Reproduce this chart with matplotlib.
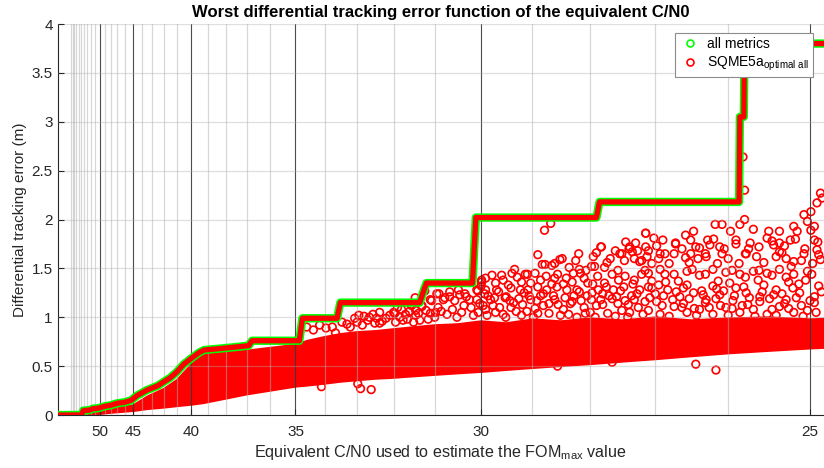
import numpy as np
import matplotlib
matplotlib.use("Agg")
import matplotlib.pyplot as plt
from matplotlib.lines import Line2D

plt.rcParams['font.family'] = ['Liberation Sans', 'DejaVu Sans']

# worst case curve (C/N0 in dB-Hz, error in m)
env_cn0 = [100, 55.0, 54.3, 52.5, 51.5, 50.3, 49.0, 48.0, 47.0, 46.0, 45.2, 44.5, 43.5,
           42.5, 42.0, 41.5, 41.0, 40.5, 40.0, 39.5, 39.2, 38.3, 37.3, 36.9, 36.75,
           34.86, 34.75, 33.6, 33.5, 31.35, 31.25, 31.19, 30.17, 30.1, 27.9, 27.85,
           25.86, 25.85, 25.80, 25.79, 24.5]
env_err = [0.0, 0.0, 0.045, 0.05, 0.065, 0.07, 0.09, 0.10, 0.12, 0.13, 0.15, 0.20, 0.255,
           0.30, 0.34, 0.38, 0.44, 0.52, 0.58, 0.64, 0.665, 0.68, 0.70, 0.71, 0.76,
           0.76, 0.99, 0.99, 1.15, 1.15, 1.28, 1.35, 1.35, 2.02, 2.02, 2.18,
           2.18, 3.05, 3.05, 3.80, 3.80]

# dense part of the SQME5a cloud (lower / upper edge)
core_cn0 = [100, 55, 50, 47.5, 45, 43.5, 42, 41, 40, 39.3, 37, 35, 34.6, 34, 33.5, 33,
            32.5, 32, 31.5, 31, 30.5, 30, 29.5, 29, 28.5, 28, 27.5, 27, 26.5, 26, 25.5,
            25, 24.5]
core_low = [0.0, 0.0, 0.02, 0.035, 0.05, 0.07, 0.085, 0.10, 0.115, 0.13, 0.22, 0.30,
            0.31, 0.33, 0.35, 0.365, 0.38, 0.39, 0.405, 0.42, 0.435, 0.45, 0.47, 0.49,
            0.51, 0.53, 0.555, 0.58, 0.61, 0.64, 0.665, 0.69, 0.71]
core_high = [0.0, 0.0, 0.04, 0.07, 0.10, 0.19, 0.27, 0.36, 0.52, 0.62, 0.66, 0.72,
             0.76, 0.80, 0.83, 0.85, 0.86, 0.88, 0.90, 0.92, 0.93, 0.96, 0.94, 0.98,
             0.96, 0.99, 0.97, 1.0, 0.97, 0.99, 1.0, 0.98, 1.0]

# scattered SQME5a points above / below the dense part
pts = [
    (34.6, 0.90), (34.37, 0.87), (34.16, 0.92), (33.95, 0.89), (33.75, 0.90), (33.65, 0.84),
    (33.07, 0.99), (32.8, 1.01), (32.55, 1.03), (32.37, 1.05), (32.0, 1.05), (31.84, 1.0),
    (31.6, 1.06), (31.45, 1.02), (31.2, 1.07), (31.1, 1.18), (30.95, 1.24), (30.8, 1.18),
    (30.66, 1.21), (30.47, 1.28), (30.3, 1.21), (30.08, 1.18), (29.98, 1.38), (29.9, 1.28),
    (32.5, 0.94), (32.37, 0.94), (31.35, 0.97), (31.97, 1.04), (31.76, 0.97), (31.45, 1.07),
    (31.3, 1.11), (31.1, 1.04), (30.9, 1.24), (30.66, 1.26), (30.44, 1.23), (30.23, 1.18),
    (30.08, 1.28), (29.98, 1.36), (31.46, 1.20), (31.23, 1.27), (31.3, 1.12), (31.07, 1.17),
    (30.92, 1.10), (30.77, 1.20), (30.55, 1.17), (30.33, 1.24), (30.06, 1.27), (29.99, 1.32),
    (29.92, 1.24),
    (33.3, 0.93), (33.0, 0.95), (32.7, 0.97), (32.2, 0.99), (31.9, 1.10), (31.7, 1.03),
    (31.55, 1.12), (31.0, 1.00), (30.85, 1.06), (30.6, 1.08), (30.4, 1.05), (30.2, 1.10),
    (30.05, 1.05),
    (33.45, 0.95), (33.2, 0.90), (32.95, 1.02), (32.85, 0.92), (32.65, 1.0), (32.45, 0.99),
    (32.3, 0.96), (32.1, 1.02), (31.95, 0.95), (31.8, 1.08), (31.65, 0.98), (31.5, 0.95),
    (31.38, 1.04), (31.15, 0.98), (30.98, 1.05), (30.72, 1.03), (30.5, 1.0), (30.35, 1.12),
    (30.15, 1.02), (30.02, 1.14),
    (34.1, 0.29), (32.98, 0.32), (32.9, 0.27), (32.6, 0.26),
    (29.77, 1.43), (29.58, 1.43), (29.38, 1.45), (29.33, 1.49), (29.13, 1.44), (28.9, 1.64),
    (28.77, 1.54), (28.65, 1.53), (28.47, 1.60), (28.35, 1.51), (28.18, 1.49), (28.07, 1.48),
    (27.93, 1.52), (27.83, 1.72), (27.77, 1.51), (27.6, 1.68), (27.5, 1.65), (27.39, 1.70),
    (27.31, 1.60), (27.2, 1.58), (27.1, 1.68),
    (28.9, 1.31), (28.65, 1.34), (28.45, 1.34), (28.18, 1.26), (27.96, 1.34), (27.74, 1.31),
    (27.52, 1.27), (27.33, 1.34), (27.15, 1.48), (27.05, 1.37),
    (28.78, 1.89), (28.67, 1.96), (28.82, 1.54), (28.6, 1.55), (28.51, 1.59), (28.24, 1.58),
    (28.19, 1.65), (28.16, 1.45), (27.98, 1.52), (27.9, 1.66), (27.82, 1.72), (27.73, 1.56),
    (27.56, 1.48), (27.53, 1.65), (27.44, 1.77), (27.38, 1.72), (27.34, 1.67), (27.29, 1.76),
    (27.23, 1.57), (27.14, 1.86), (27.12, 1.62),
    (29.8, 1.18), (29.68, 1.28), (29.49, 1.21), (29.22, 1.28), (29.03, 1.35), (29.03, 1.18),
    (28.85, 1.38), (28.74, 1.28), (28.56, 1.31), (28.39, 1.28), (28.22, 1.28), (28.04, 1.35),
    (27.87, 1.28), (27.77, 1.35), (27.63, 1.28), (27.47, 1.31), (27.31, 1.38), (27.23, 1.28),
    (27.1, 1.31), (28.6, 1.18), (28.33, 1.14), (27.98, 1.18), (27.56, 1.14), (27.31, 1.18),
    (28.9, 1.04), (28.22, 1.0), (27.72, 1.04), (27.41, 1.0), (29.64, 1.26), (29.51, 1.20),
    (29.25, 1.19), (29.09, 1.44), (29.06, 1.22),
    (29.7, 1.05), (29.4, 1.10), (29.1, 1.06), (28.8, 1.12), (28.45, 1.08), (28.1, 1.10),
    (27.8, 1.13), (27.5, 1.07), (27.25, 1.10),
    (29.9, 1.08), (29.75, 1.12), (29.55, 1.03), (29.35, 1.15), (29.2, 1.02), (28.95, 1.09),
    (28.7, 1.14), (28.5, 1.02), (28.3, 1.16), (28.0, 1.05), (27.9, 1.12), (27.65, 1.19),
    (27.4, 1.13), (27.15, 1.16), (26.9, 1.12), (26.75, 1.18), (26.6, 1.14), (26.45, 1.09),
    (26.3, 1.15), (26.1, 1.12), (25.95, 1.09), (25.75, 1.13), (25.6, 1.16), (25.45, 1.08),
    (25.3, 1.14), (25.1, 1.12), (24.95, 1.15),
    (29.85, 1.22), (29.45, 1.33), (29.15, 1.25), (28.85, 1.22), (28.6, 1.40), (28.3, 1.36),
    (28.05, 1.22), (27.8, 1.24), (27.55, 1.38), (27.35, 1.22), (27.05, 1.30), (26.85, 1.36),
    (26.55, 1.33), (26.35, 1.27), (26.15, 1.29), (25.98, 1.35), (25.8, 1.31), (25.62, 1.38),
    (25.4, 1.28), (25.25, 1.36), (25.05, 1.38),
    (29.95, 1.12), (29.87, 1.02), (29.72, 1.20), (29.62, 1.10), (29.5, 1.0), (29.42, 1.17),
    (29.3, 1.06), (29.18, 1.13), (29.08, 1.28), (28.98, 1.0), (28.92, 1.17), (28.8, 1.24),
    (28.7, 1.04), (28.62, 1.22), (28.54, 1.13), (28.42, 1.20), (28.36, 1.03), (28.27, 1.22),
    (28.15, 1.17), (28.08, 1.04), (27.97, 1.25), (27.92, 1.0), (27.83, 1.18), (27.7, 1.22),
    (27.6, 1.01), (27.58, 1.21), (27.45, 1.17), (27.38, 1.05), (27.27, 1.24), (27.18, 1.03),
    (27.08, 1.20),
    (26.98, 1.16), (26.88, 1.22), (26.8, 1.01), (26.7, 1.26), (26.62, 1.10), (26.52, 1.19),
    (26.42, 1.02), (26.33, 1.23), (26.25, 1.10), (26.16, 1.19), (26.06, 1.27), (26.0, 1.02),
    (25.92, 1.22), (25.82, 1.12), (25.73, 1.20), (25.66, 1.01), (25.57, 1.26), (25.48, 1.19),
    (25.4, 1.02), (25.33, 1.24), (25.25, 1.09), (25.16, 1.20), (25.08, 1.01), (25.0, 1.17),
    (24.93, 1.05), (24.87, 1.26),
    (27.95, 1.62), (27.68, 1.60), (27.46, 1.58), (27.26, 1.68), (27.05, 1.55), (26.95, 1.60),
    (26.8, 1.55), (26.62, 1.70), (26.52, 1.56), (26.4, 1.60), (26.24, 1.74), (26.14, 1.55),
    (26.0, 1.60), (25.86, 1.55), (25.74, 1.70), (25.55, 1.56), (25.4, 1.62), (25.3, 1.73),
    (25.22, 1.52), (25.1, 1.58), (24.97, 1.55), (24.9, 1.64),
    (29.9, 1.40), (29.7, 1.35), (29.55, 1.38), (29.4, 1.30), (29.28, 1.41), (29.2, 1.36),
    (28.95, 1.45), (28.75, 1.42), (28.55, 1.44), (28.4, 1.40), (28.28, 1.45), (28.1, 1.40),
    (27.88, 1.42), (27.65, 1.44), (27.45, 1.42), (27.2, 1.44),
    (28.55, 0.50), (27.65, 0.54),
    (26.98, 1.73), (26.86, 1.65), (26.71, 1.75), (26.57, 1.61), (26.43, 1.72), (26.3, 1.65),
    (26.19, 1.80), (26.05, 1.70), (25.9, 1.75), (25.78, 1.65), (25.61, 1.72), (25.45, 1.78),
    (25.33, 1.66), (25.17, 1.80), (25.06, 1.70), (24.91, 1.77),
    (26.86, 1.44), (26.67, 1.37), (26.48, 1.49), (26.3, 1.44), (26.13, 1.37), (25.95, 1.48),
    (25.78, 1.41), (25.61, 1.48), (25.45, 1.43), (25.28, 1.41), (25.13, 1.34), (24.98, 1.44),
    (25.79, 2.30), (25.81, 2.64), (26.17, 1.95), (26.08, 1.95), (25.85, 1.95), (25.79, 2.00),
    (25.97, 1.88), (26.46, 1.88), (26.57, 1.84), (27.14, 1.86), (27.02, 1.81), (26.89, 1.79),
    (26.71, 1.76), (26.27, 1.79), (25.68, 1.90), (25.49, 1.88), (25.36, 1.88), (25.19, 1.93),
    (25.07, 2.05), (24.99, 2.08), (24.92, 2.17), (24.88, 2.27), (24.86, 2.22),
    (25.03, 1.98), (24.99, 1.89), (24.95, 1.79), (24.92, 1.69), (24.88, 1.59),
    (25.51, 1.81), (25.43, 1.74), (25.36, 1.67), (25.28, 1.60), (25.19, 1.57), (25.15, 1.88),
    (26.73, 1.65), (26.5, 1.65), (26.29, 1.62), (26.08, 1.65), (25.72, 1.76), (25.64, 1.62),
    (27.1, 1.45), (26.93, 1.49), (26.73, 1.44), (26.55, 1.47), (26.38, 1.43), (26.2, 1.49),
    (26.03, 1.46), (25.85, 1.44), (25.68, 1.47), (25.51, 1.45), (25.36, 1.49), (25.19, 1.44),
    (25.03, 1.47),
    (27.0, 1.24), (26.82, 1.28), (26.65, 1.21), (26.46, 1.25), (26.29, 1.18), (26.11, 1.23),
    (25.94, 1.17), (25.77, 1.25), (25.6, 1.21), (25.43, 1.23), (25.28, 1.18), (25.12, 1.25),
    (24.95, 1.21),
    (27.1, 1.07), (26.93, 1.03), (26.73, 1.11), (26.55, 1.05), (26.38, 1.08), (26.2, 1.03),
    (26.03, 1.10), (25.85, 1.05), (25.68, 1.08), (25.51, 1.03), (25.36, 1.11), (25.19, 1.05),
    (25.03, 1.07),
    (26.95, 1.33), (26.6, 1.30), (26.2, 1.32), (25.9, 1.30), (25.55, 1.33), (25.2, 1.30),
    (24.9, 1.32),
    (27.14, 1.72), (26.93, 1.65), (26.5, 1.79), (26.38, 1.71), (26.11, 1.72), (25.9, 1.79),
    (25.77, 1.65), (25.36, 1.76), (25.23, 1.79), (25.07, 1.65), (24.95, 1.93),
    (26.43, 0.52), (26.16, 0.46),
]
pts_cn0 = [p[0] for p in pts]
pts_err = [p[1] for p in pts]

major_ticks = [50, 45, 40, 35, 30, 25]
minor_ticks = list(range(26, 61))


def fwd(c):
    return np.power(10.0, -np.asarray(c, dtype=float) / 20.0)


def inv(v):
    v = np.clip(np.asarray(v, dtype=float), 1e-12, None)
    return -20.0 * np.log10(v)


RED = '#ff0000'
GREEN = '#00ff00'

fig = plt.figure(figsize=(8.24, 4.68), dpi=100)
ax = fig.add_axes([0.0698, 0.1132, 0.9302, 0.8355])
ax.set_xscale('function', functions=(fwd, inv))

ax.fill_between(core_cn0, core_low, core_high, color=RED, lw=2.0, zorder=1)
ax.scatter(pts_cn0, pts_err, s=30, facecolors='none', edgecolors=RED,
           linewidths=1.2, zorder=1)

ax.plot(env_cn0, env_err, color=GREEN, lw=6.0, solid_capstyle='round',
        solid_joinstyle='round', zorder=3)
ax.plot(env_cn0, env_err, color=RED, lw=3.8, solid_capstyle='round',
        solid_joinstyle='round', zorder=3.1)

ax.set_xlim(24.84, 120)
ax.set_ylim(0, 4)
ax.set_xticks(major_ticks)
ax.set_xticklabels([str(t) for t in major_ticks])
ax.set_xticks(minor_ticks, minor=True)
ax.set_yticks(np.arange(0, 4.01, 0.5))
ax.set_yticklabels(['0', '0.5', '1', '1.5', '2', '2.5', '3', '3.5', '4'])

ax.set_axisbelow(False)
ax.grid(axis='x', which='minor', color='#b0b0b0', alpha=0.5, lw=0.9)
ax.grid(axis='x', which='major', color='#3a3a3a', alpha=0.9, lw=0.8)
ax.grid(axis='y', which='major', color='#b0b0b0', alpha=0.4, lw=0.9)

ax.tick_params(axis='both', which='major', direction='in', length=4, width=0.8,
               colors='#262626', labelsize=11)
ax.tick_params(axis='x', which='major', pad=7)
ax.tick_params(axis='x', which='minor', length=0)
for s in ['top', 'right']:
    ax.spines[s].set_visible(False)
for s in ['left', 'bottom']:
    ax.spines[s].set_color('#262626')
    ax.spines[s].set_linewidth(0.8)

ax.set_title('Worst differential tracking error function of the equivalent C/N0',
             fontsize=12, fontweight='bold', pad=5)
ax.set_ylabel('Differential tracking error (m)', fontsize=11, color='#262626')
ax.yaxis.set_label_coords(-0.040, 0.5)
ax.set_xlabel(r'Equivalent C/N0 used to estimate the FOM$_\mathregular{max}$ value',
              fontsize=11.6, color='#262626', va='top')
ax.xaxis.set_label_coords(0.5, -0.072)

handles = [
    Line2D([], [], marker='o', ls='none', mfc='none', mec=GREEN, ms=5, mew=1.2),
    Line2D([], [], marker='o', ls='none', mfc='none', mec=RED, ms=5, mew=1.2),
]
leg = ax.legend(handles, ['all metrics', r'SQME5a$_\mathregular{optimal\ all}$'],
                loc='upper right', bbox_to_anchor=(0.986, 0.977), borderaxespad=0,
                fontsize=10, frameon=True, fancybox=False, framealpha=1,
                edgecolor='#8c8c8c', handletextpad=0.4, handlelength=1.6,
                borderpad=0.3, labelspacing=0.25)
leg.get_frame().set_linewidth(0.8)
leg.set_zorder(5)

fig.savefig('out.png', dpi=100)
